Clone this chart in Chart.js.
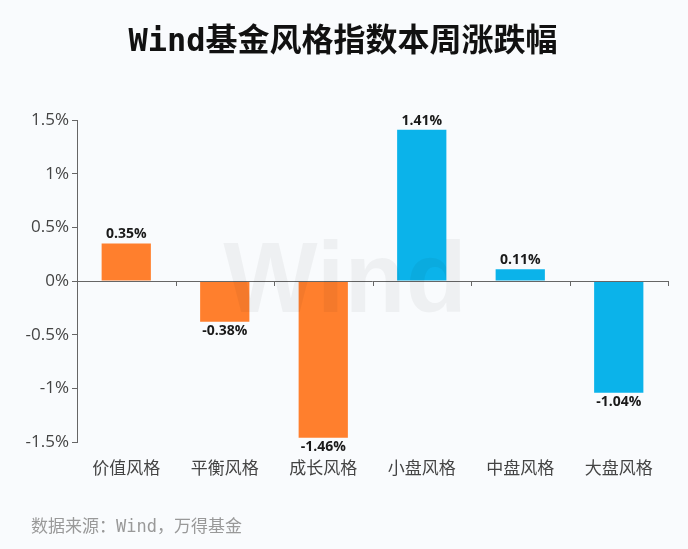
<!DOCTYPE html>
<html>
<head>
<meta charset="utf-8">
<script src="https://cdn.jsdelivr.net/npm/chart.js@4.4.1/dist/chart.umd.min.js"></script>
<style>
  html, body { margin: 0; padding: 0; background: #f9fbfd; }
  #wrap { width: 688px; height: 549px; position: relative; }
</style>
</head>
<body>
<div id="wrap"><canvas id="chart"></canvas></div>
<script>
// 数据
const categories = ['价值风格', '平衡风格', '成长风格', '小盘风格', '中盘风格', '大盘风格'];
const weeklyChange = [0.35, -0.38, -1.46, 1.41, 0.11, -1.04];
const barColors = ['#ff7f2d', '#ff7f2d', '#ff7f2d', '#0bb3ea', '#0bb3ea', '#0bb3ea'];
const yTicks = [-1.5, -1, -0.5, 0, 0.5, 1, 1.5];

const titleText = 'Wind基金风格指数本周涨跌幅';
const sourceText = '数据来源：Wind，万得基金';

const cjkFont = '"Noto Sans CJK SC", "Noto Sans", sans-serif';
const labelFont = '"Open Sans", "Noto Sans CJK SC", sans-serif';
const monoCjkFont = '"DejaVu Sans Mono", "Noto Sans CJK SC", sans-serif';

// 标题、水印、零轴线、数据标签
const decorPlugin = {
  id: 'decor',
  afterDatasetsDraw(chart) {
    const { ctx, chartArea, scales } = chart;
    const x = scales.x, y = scales.y;
    const zeroY = y.getPixelForValue(0);

    ctx.save();
    // 零轴线
    ctx.strokeStyle = '#666';
    ctx.lineWidth = 1;
    ctx.beginPath();
    ctx.moveTo(chartArea.left, zeroY + 0.5);
    ctx.lineTo(chartArea.right, zeroY + 0.5);
    // 分类边界刻度
    const step = (chartArea.right - chartArea.left) / categories.length;
    for (let i = 1; i <= categories.length; i++) {
      const px = Math.round(x.getPixelForValue(i - 1) + step / 2) + 0.5;
      ctx.moveTo(px, zeroY);
      ctx.lineTo(px, zeroY + 5);
    }
    ctx.stroke();

    // 数据标签
    const meta = chart.getDatasetMeta(0);
    ctx.font = 'bold 14px ' + labelFont;
    ctx.fillStyle = '#1a1a1a';
    ctx.textAlign = 'center';
    meta.data.forEach((bar, i) => {
      const v = weeklyChange[i];
      const label = v.toFixed(2) + '%';
      if (v >= 0) {
        ctx.textBaseline = 'bottom';
        ctx.fillText(label, bar.x, bar.y - 2);
      } else {
        ctx.textBaseline = 'top';
        ctx.fillText(label, bar.x, bar.y + 2);
      }
    });

    // 水印
    ctx.font = 'bold 100px "Liberation Sans", sans-serif';
    ctx.fillStyle = 'rgba(0, 0, 0, 0.045)';
    ctx.textAlign = 'center';
    ctx.textBaseline = 'alphabetic';
    ctx.fillText('Wind', 345, 312);
    ctx.restore();
  },
  afterDraw(chart) {
    const { ctx } = chart;
    ctx.save();
    ctx.fillStyle = '#111';
    ctx.font = 'bold 32px ' + monoCjkFont;
    ctx.textAlign = 'center';
    ctx.textBaseline = 'middle';
    ctx.fillText(titleText, 343, 43);

    ctx.fillStyle = '#999';
    ctx.font = '17px ' + monoCjkFont;
    ctx.textAlign = 'left';
    ctx.fillText(sourceText, 31, 528);
    ctx.restore();
  }
};

new Chart(document.getElementById('chart'), {
  type: 'bar',
  data: {
    labels: categories,
    datasets: [{
      data: weeklyChange,
      backgroundColor: barColors,
      borderWidth: 0,
      categoryPercentage: 1,
      barPercentage: 0.5
    }]
  },
  options: {
    responsive: true,
    maintainAspectRatio: false,
    animation: false,
    layout: {
      padding: { top: 120, right: 20, bottom: 0, left: 0 }
    },
    plugins: {
      legend: { display: false },
      tooltip: { enabled: false }
    },
    scales: {
      x: {
        grid: { display: false },
        border: { display: false },
        ticks: {
          color: '#444',
          font: { family: cjkFont, size: 17 },
          padding: 7
        },
        afterFit(scale) { scale.height = 107; }
      },
      y: {
        min: -1.5,
        max: 1.5,
        afterBuildTicks(scale) {
          scale.ticks = yTicks.map(v => ({ value: v }));
        },
        grid: {
          display: true,
          drawOnChartArea: false,
          drawTicks: true,
          tickLength: 5,
          color: '#666'
        },
        border: { display: true, color: '#666' },
        ticks: {
          color: '#444',
          font: { family: labelFont, size: 17 },
          padding: 3,
          callback: v => v + '%'
        },
        afterFit(scale) { scale.width = 77; }
      }
    }
  },
  plugins: [decorPlugin]
});
</script>
</body>
</html>
